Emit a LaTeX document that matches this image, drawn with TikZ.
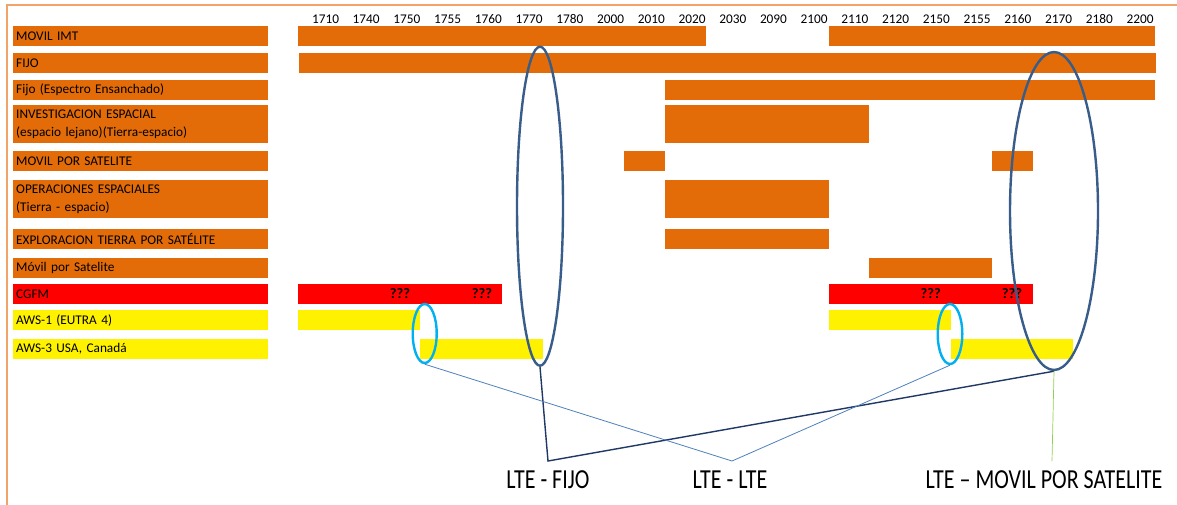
\documentclass[tikz,border=0pt]{standalone}
\usepackage{fontspec}
\setmainfont{Carlito}
\usepackage{graphicx}
\usetikzlibrary{shapes.geometric}
\definecolor{orng}{HTML}{E36C09}
\definecolor{bordc}{HTML}{F2A468}
\definecolor{ellbig}{HTML}{385D8A}
\definecolor{ellsmall}{HTML}{00B0F0}
\definecolor{navy}{HTML}{1F3864}
\definecolor{lblue}{HTML}{4F81BD}
\definecolor{lgreen}{HTML}{92D050}
\newcommand\gx[1]{298+40.81*#1}
\begin{document}
\begin{tikzpicture}[x=1pt,y=-1pt,
  lab/.style={anchor=north west, inner xsep=3pt, inner ysep=0pt, minimum height=#1,
     text width=249pt, align=left, font=\fontsize{13.3}{18}\selectfont, text=black},
  lab/.default=20,
  hdr/.style={font=\fontsize{13.3}{16}\selectfont, inner sep=0pt},
  qq/.style={font=\fontsize{14.5}{16}\selectfont\bfseries, inner sep=0pt},
  bigell/.style={ellipse, draw=ellbig, line width=2.4pt, inner sep=0pt},
  smallell/.style={ellipse, draw=ellsmall, line width=2.4pt, inner sep=0pt},
  lte/.style={font=\fontsize{22}{26}\selectfont, inner sep=0pt},
  bord/.style={draw=bordc, line width=2pt}
]
\useasboundingbox (0,0) rectangle (1177,504);
\fill[white] (0,0) rectangle (1177,504);
% border
\draw[bord] (6.7,510) -- (6.7,5) -- (1180,5);
% header
\foreach \n [count=\i from 0] in {1710,1740,1750,1755,1760,1770,1780,2000,2010,2020,2030,2090,2100,2110,2120,2150,2155,2160,2170,2180,2200}
  \node[hdr] (h\i) at ({325.5+40.725*\i},19) {\n};
% left labels
\node[lab, fill=orng] (l1) at (13,26) {MOVIL IMT};
\node[lab, fill=orng] (l2) at (13,53) {FIJO};
\node[lab, fill=orng] (l3) at (13,80) {Fijo (Espectro Ensanchado)};
\node[lab=38, fill=orng] (l4) at (13,105) {INVESTIGACION ESPACIAL\\(espacio lejano)(Tierra-espacio)};
\node[lab, fill=orng] (l5) at (13,151) {MOVIL POR SATELITE};
\node[lab=38, fill=orng] (l6) at (13,180) {OPERACIONES ESPACIALES\\(Tierra - espacio)};
\node[lab, fill=orng] (l7) at (13,229) {EXPLORACION TIERRA POR SATÉLITE};
\node[lab, fill=orng] (l8) at (13,258) {Móvil por Satelite};
\node[lab, fill=red] (l9) at (13,284) {CGFM};
\node[lab, fill=yellow] (l10) at (13,310) {AWS-1 (EUTRA 4)};
\node[lab, fill=yellow] (l11) at (13,339) {AWS-3 USA, Canadá};
% bars
\fill[orng] ({\gx{0}},26) rectangle ({\gx{10}},46);
\fill[orng] ({\gx{13}},26) rectangle ({\gx{21}},46);
\fill[orng] ({\gx{0}+1},53) rectangle ({\gx{21}+1},73);
\fill[orng] ({\gx{9}},80) rectangle ({\gx{21}},100);
\fill[orng] ({\gx{9}},105) rectangle ({\gx{14}},143);
\fill[orng] ({\gx{8}},151) rectangle ({\gx{9}},171);
\fill[orng] ({\gx{17}},151) rectangle ({\gx{18}},171);
\fill[orng] ({\gx{9}},180) rectangle ({\gx{13}},218);
\fill[orng] ({\gx{9}},229) rectangle ({\gx{13}},249);
\fill[orng] ({\gx{14}},258) rectangle ({\gx{17}},278);
\fill[red] ({\gx{0}},284) rectangle ({\gx{5}},304);
\fill[red] ({\gx{13}},284) rectangle ({\gx{18}},304);
\fill[yellow] ({\gx{0}},310) rectangle ({\gx{3}},330);
\fill[yellow] ({\gx{13}},310) rectangle ({\gx{16}},330);
\fill[yellow] ({\gx{3}},339) rectangle ({\gx{6}},359);
\fill[yellow] ({\gx{16}},339) rectangle ({\gx{19}},359);
% question marks
\node[qq] (q1) at (400,294) {???};
\node[qq] (q2) at (482,294) {???};
\node[qq] (q3) at (930.7,294) {???};
\node[qq] (q4) at (1012,294) {???};
% ellipses
\node[bigell, minimum width=46pt, minimum height=319pt] (E1) at (540,206.2) {};
\node[bigell, minimum width=88pt, minimum height=318pt] (E2) at (1054,211) {};
\node[smallell, minimum width=24pt, minimum height=59pt] (S1) at (424.7,333.5) {};
\node[smallell, minimum width=24.6pt, minimum height=60pt] (S2) at (950,334) {};
% bottom labels
\coordinate (vF) at (548,461);
\coordinate (vL) at (732,461);
\coordinate (vS) at (1052,461);
\node[lte] (tF) at (548,480) {\scalebox{1}[1.25]{LTE - FIJO}};
\node[lte] (tL) at (730,480) {\scalebox{1}[1.25]{LTE - LTE}};
\node[lte] (tS) at (1044,480) {\scalebox{1}[1.25]{LTE – MOVIL POR SATELITE}};
% connectors
\draw[navy, line width=1.4pt] (E1.south) -- (vF) -- (E2.south);
\draw[lblue, line width=0.8pt] (S1.south) -- (vL) -- (S2.south);
\draw[lgreen, line width=0.7pt] (E2.south) -- (vS);
\end{tikzpicture}
\end{document}
